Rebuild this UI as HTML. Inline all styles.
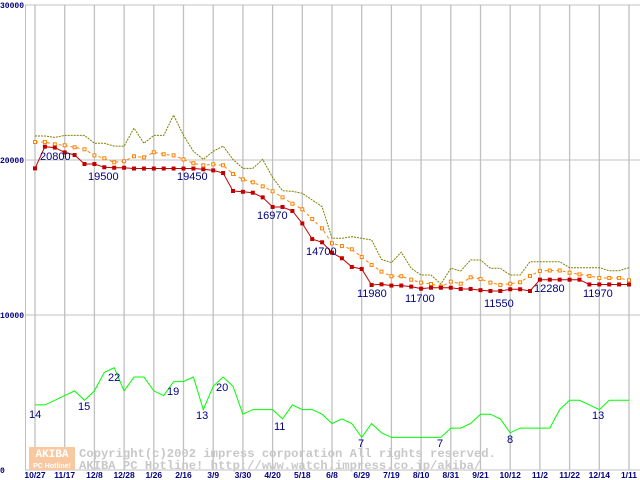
<!DOCTYPE html>
<html><head><meta charset="utf-8"><style>
html,body{margin:0;padding:0;background:#fff;}
svg{display:block;}
</style></head><body>
<svg id="chart" width="640" height="480" xmlns="http://www.w3.org/2000/svg">
<g id="grid"></g>
<g id="wm">
 <rect x="29" y="447" width="46" height="23" fill="#f8c8a0"/>
 <text x="52" y="457" font-family="Liberation Mono, monospace" font-weight="bold" font-size="11" fill="#fff" text-anchor="middle">AKIBA</text>
 <text x="52" y="468" font-family="Liberation Sans, sans-serif" font-weight="bold" font-size="7" fill="#fff" text-anchor="middle">PC Hotline!</text>
 <text x="79" y="457" font-family="Liberation Mono, monospace" font-weight="bold" font-size="12.2" fill="#c8c8c8">Copyright(c)2002 impress corporation All rights reserved.</text>
 <text x="79" y="469" font-family="Liberation Mono, monospace" font-weight="bold" font-size="12.2" fill="#c8c8c8">AKIBA PC Hotline!  http://www.watch.impress.co.jp/akiba/</text>
</g>
<g id="series"></g>
</svg>
<script>
const dateLabels=["10/27","11/17","12/8","12/28","1/26","2/16","3/9","3/30","4/20","5/18","6/8","6/29","7/19","8/10","8/31","9/21","10/12","11/2","11/22","12/14","1/11"];
const yTicks=[0,10000,20000,30000];
const minPrice=[19460,20860,20800,20490,20320,19740,19740,19530,19500,19500,19450,19450,19450,19450,19450,19450,19450,19400,19330,19160,18000,17950,17890,17590,16970,16970,16710,15910,14900,14690,14020,13660,13100,12970,11935,11980,11900,11900,11830,11700,11760,11760,11760,11680,11680,11600,11550,11550,11660,11660,11550,12280,12280,12280,12280,12280,11970,11970,11970,11970,11970];
const avgPrice=[21160,21160,21010,20950,20820,20690,20300,20110,19850,19920,20240,20170,20500,20370,20300,20040,19790,19660,19720,19660,19100,18750,18560,18300,17980,17590,17180,16820,16190,15590,14620,14450,14240,13740,13230,12800,12500,12500,12280,12090,12000,11830,12150,12020,12430,12320,12090,11940,12020,12110,12520,12840,12870,12870,12730,12620,12520,12390,12390,12390,12240];
const maxPrice=[21550,21550,21460,21590,21590,21590,21080,21080,20900,20900,22060,21080,21590,21590,22900,21590,20560,20040,20560,20900,20040,19460,19460,20040,18880,18020,17980,17850,17420,16990,14950,14950,15050,14950,14840,13590,13380,14050,13010,12580,12580,12000,13010,12840,13550,13550,13010,13010,12580,12580,13440,13440,13440,13440,13050,13050,13050,13050,12860,12860,13050];
const shopCount=[14,14,15,16,17,15,17,21,22,17,20,20,17,16,19,19,20,13,18,20,18,12,13,13,13,11,14,13,13,12,10,11,10,7,10,8,7,7,7,7,7,7,9,9,10,12,12,11,8,9,9,9,9,13,15,15,14,13,15,15,15];
const priceLabels=[[1,"20800",40,160],[6,"19500",88,180],[15,"19450",177,180],[24,"16970",257,219],[29,"14700",306,255],[34,"11980",357,297],[39,"11700",405,302],[46,"11550",484,307],[51,"12280",534,292],[57,"11970",583,297]];
const countLabels=[[0,"14",29,418],[5,"15",78,410],[8,"22",108,381],[14,"19",167,395],[17,"13",196,419],[19,"20",216,391],[25,"11",274,430],[33,"7",358,447],[41,"7",437,447],[48,"8",507,443],[57,"13",592,419]];

const NS="http://www.w3.org/2000/svg";
const x0=35, dx=(629-35)/60;
function xs(i){return x0+i*dx;}
function yp(v){return 470-v*155/10000;}
function yc(v){return 470-v*4.65;}
function mk(tag,attrs,parent){const e=document.createElementNS(NS,tag);for(const k in attrs)e.setAttribute(k,attrs[k]);parent.appendChild(e);return e;}
const grid=document.getElementById('grid'), ser=document.getElementById('series');

yTicks.forEach(v=>{
  const l=mk('line',{x1:25,x2:640,y1:yp(v),y2:yp(v),stroke:'#c0c0c0','stroke-width':1},grid);
  
  
  const t=mk('text',{x:0,y:yp(v)+3,'font-family':'Liberation Mono, monospace','font-weight':'bold','font-size':8,fill:'#000080'},grid);
  t.textContent=String(v);
  
  
});
const ax=mk('line',{x1:25.5,x2:25.5,y1:5,y2:470,stroke:'#c0c0c0'},grid);


dateLabels.forEach((d,k)=>{
  const x=xs(k*3);
  const l=mk('line',{x1:x,x2:x,y1:5,y2:470,stroke:'#c0c0c0','stroke-width':1.3},grid);
  
  
  const t=mk('text',{x:x,y:478,'text-anchor':'middle','font-family':'Liberation Sans, sans-serif','font-weight':'bold','font-size':8.5,fill:'#000080'},grid);
  t.textContent=d;
  
  
});

function line(arr,fy,attrs,name){
  const p=mk('polyline',Object.assign({points:arr.map((v,i)=>xs(i).toFixed(1)+','+fy(v).toFixed(1)).join(' '),fill:'none'},attrs),ser);
  
  
}
line(shopCount,yc,{stroke:'#00ff00','stroke-width':1},'shop-count-line');
line(maxPrice,yp,{stroke:'#808000','stroke-width':1,'stroke-dasharray':'2,1'},'max-price-line');
line(avgPrice,yp,{stroke:'#ff8000','stroke-width':1,'stroke-dasharray':'3,3'},'avg-price-line');
avgPrice.forEach((v,i)=>{
  const r=mk('rect',{x:xs(i)-1.5,y:yp(v)-1.5,width:3,height:3,fill:'#fff',stroke:'#ff8000','stroke-width':1},ser);
  
  
});
line(minPrice,yp,{stroke:'#c00000','stroke-width':1},'min-price-line');
minPrice.forEach((v,i)=>{
  const r=mk('rect',{x:xs(i)-2,y:yp(v)-2,width:4,height:4,fill:'#c00000'},ser);
  
  
});
priceLabels.forEach(a=>{
  const t=mk('text',{x:a[2],y:a[3],'font-family':'Liberation Sans, sans-serif','font-size':11,fill:'#000080'},ser);
  t.textContent=a[1];
  
  
});
countLabels.forEach(a=>{
  const t=mk('text',{x:a[2],y:a[3],'font-family':'Liberation Sans, sans-serif','font-size':11,fill:'#000080'},ser);
  t.textContent=a[1];
  
  
});
</script>
</body></html>
